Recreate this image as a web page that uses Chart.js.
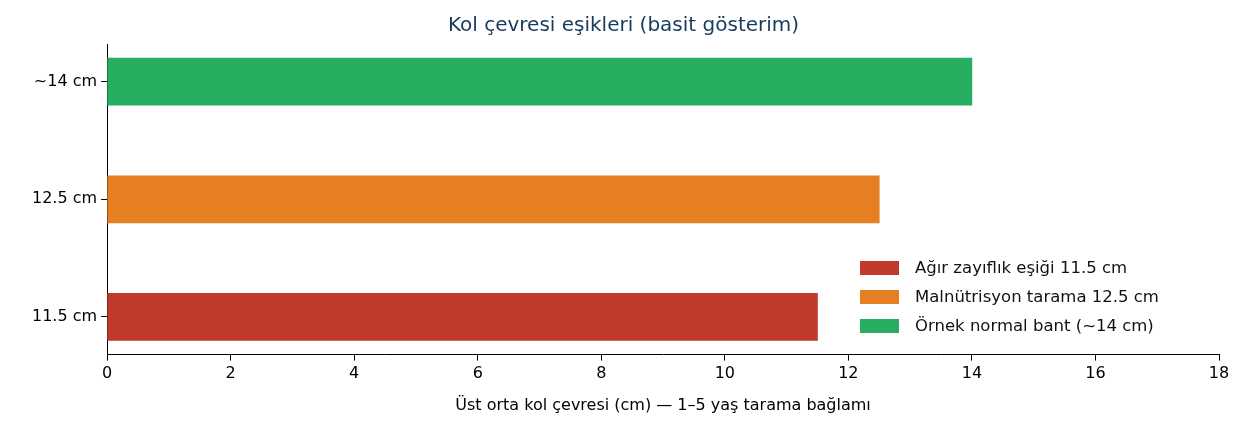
<!DOCTYPE html>
<html>
<head>
<meta charset="utf-8">
<script src="https://cdn.jsdelivr.net/npm/chart.js@4/dist/chart.umd.min.js"></script>
<style>
  body { margin: 0; background: #fff; font-family: "DejaVu Sans", sans-serif; }
  #wrap { position: relative; width: 1246px; height: 431px; }
  #legend { position: absolute; left: 860px; top: 253px; font-size: 16.5px; color: #111; }
  #legend div { display: flex; align-items: center; height: 29px; }
  #legend span.sw { display: inline-block; width: 39px; height: 14px; margin-right: 16px; }
</style>
</head>
<body>
<div id="wrap">
  <canvas id="c" width="1246" height="431"></canvas>
  <div id="legend"></div>
</div>
<script>
// Kol çevresi eşikleri
const categories = ['~14 cm', '12.5 cm', '11.5 cm'];
const values = [14, 12.5, 11.5];
const seriesNames = ['Örnek normal bant (~14 cm)', 'Malnütrisyon tarama 12.5 cm', 'Ağır zayıflık eşiği 11.5 cm'];
const colors = ['#27ae60', '#e67e22', '#c0392b'];
const xTicks = [0, 2, 4, 6, 8, 10, 12, 14, 16, 18];

const datasets = values.map((v, i) => ({
    label: seriesNames[i],
    data: [{ x: v, y: i }],
    backgroundColor: colors[i],
    barThickness: 47,
    grouped: false
}));

// legend, same order as the reference (bottom bar first)
const legend = document.getElementById('legend');
[2, 1, 0].forEach(i => {
    legend.innerHTML += `<div><span class="sw" style="background:${colors[i]}"></span>${seriesNames[i]}</div>`;
});

const font = { family: 'DejaVu Sans', size: 16 };

new Chart(document.getElementById('c'), {
    type: 'bar',
    data: { datasets },
    options: {
        responsive: false, animation: false,
        indexAxis: 'y',
        layout: { padding: { left: 28, right: 27, top: 0, bottom: 12 } },
        plugins: {
            legend: { display: false },
            tooltip: { enabled: false },
            title: {
                display: true, text: 'Kol çevresi eşikleri (basit gösterim)',
                color: '#173a5e', font: { family: 'DejaVu Sans', size: 20, weight: 'normal' },
                padding: { top: 14, bottom: 6 }
            }
        },
        scales: {
            x: {
                type: 'linear', min: 0, max: 18,
                afterBuildTicks: s => { s.ticks = xTicks.map(v => ({ value: v })); },
                grid: { drawOnChartArea: false, color: '#000', tickLength: 6 },
                border: { color: '#000' },
                ticks: { color: '#000', font, padding: 4, maxRotation: 0 },
                title: { display: true, text: 'Üst orta kol çevresi (cm) — 1–5 yaş tarama bağlamı', color: '#000', font, padding: { top: 8 } }
            },
            y: {
                type: 'linear', min: -0.32, max: 2.32, reverse: true, offset: false,
                afterBuildTicks: s => { s.ticks = [0, 1, 2].map(v => ({ value: v })); },
                grid: { drawOnChartArea: false, offset: false, color: '#000', tickLength: 6 },
                border: { color: '#000' },
                ticks: { color: '#000', font, padding: 4, callback: v => categories[v] }
            }
        }
    }
});
</script>
</body>
</html>
